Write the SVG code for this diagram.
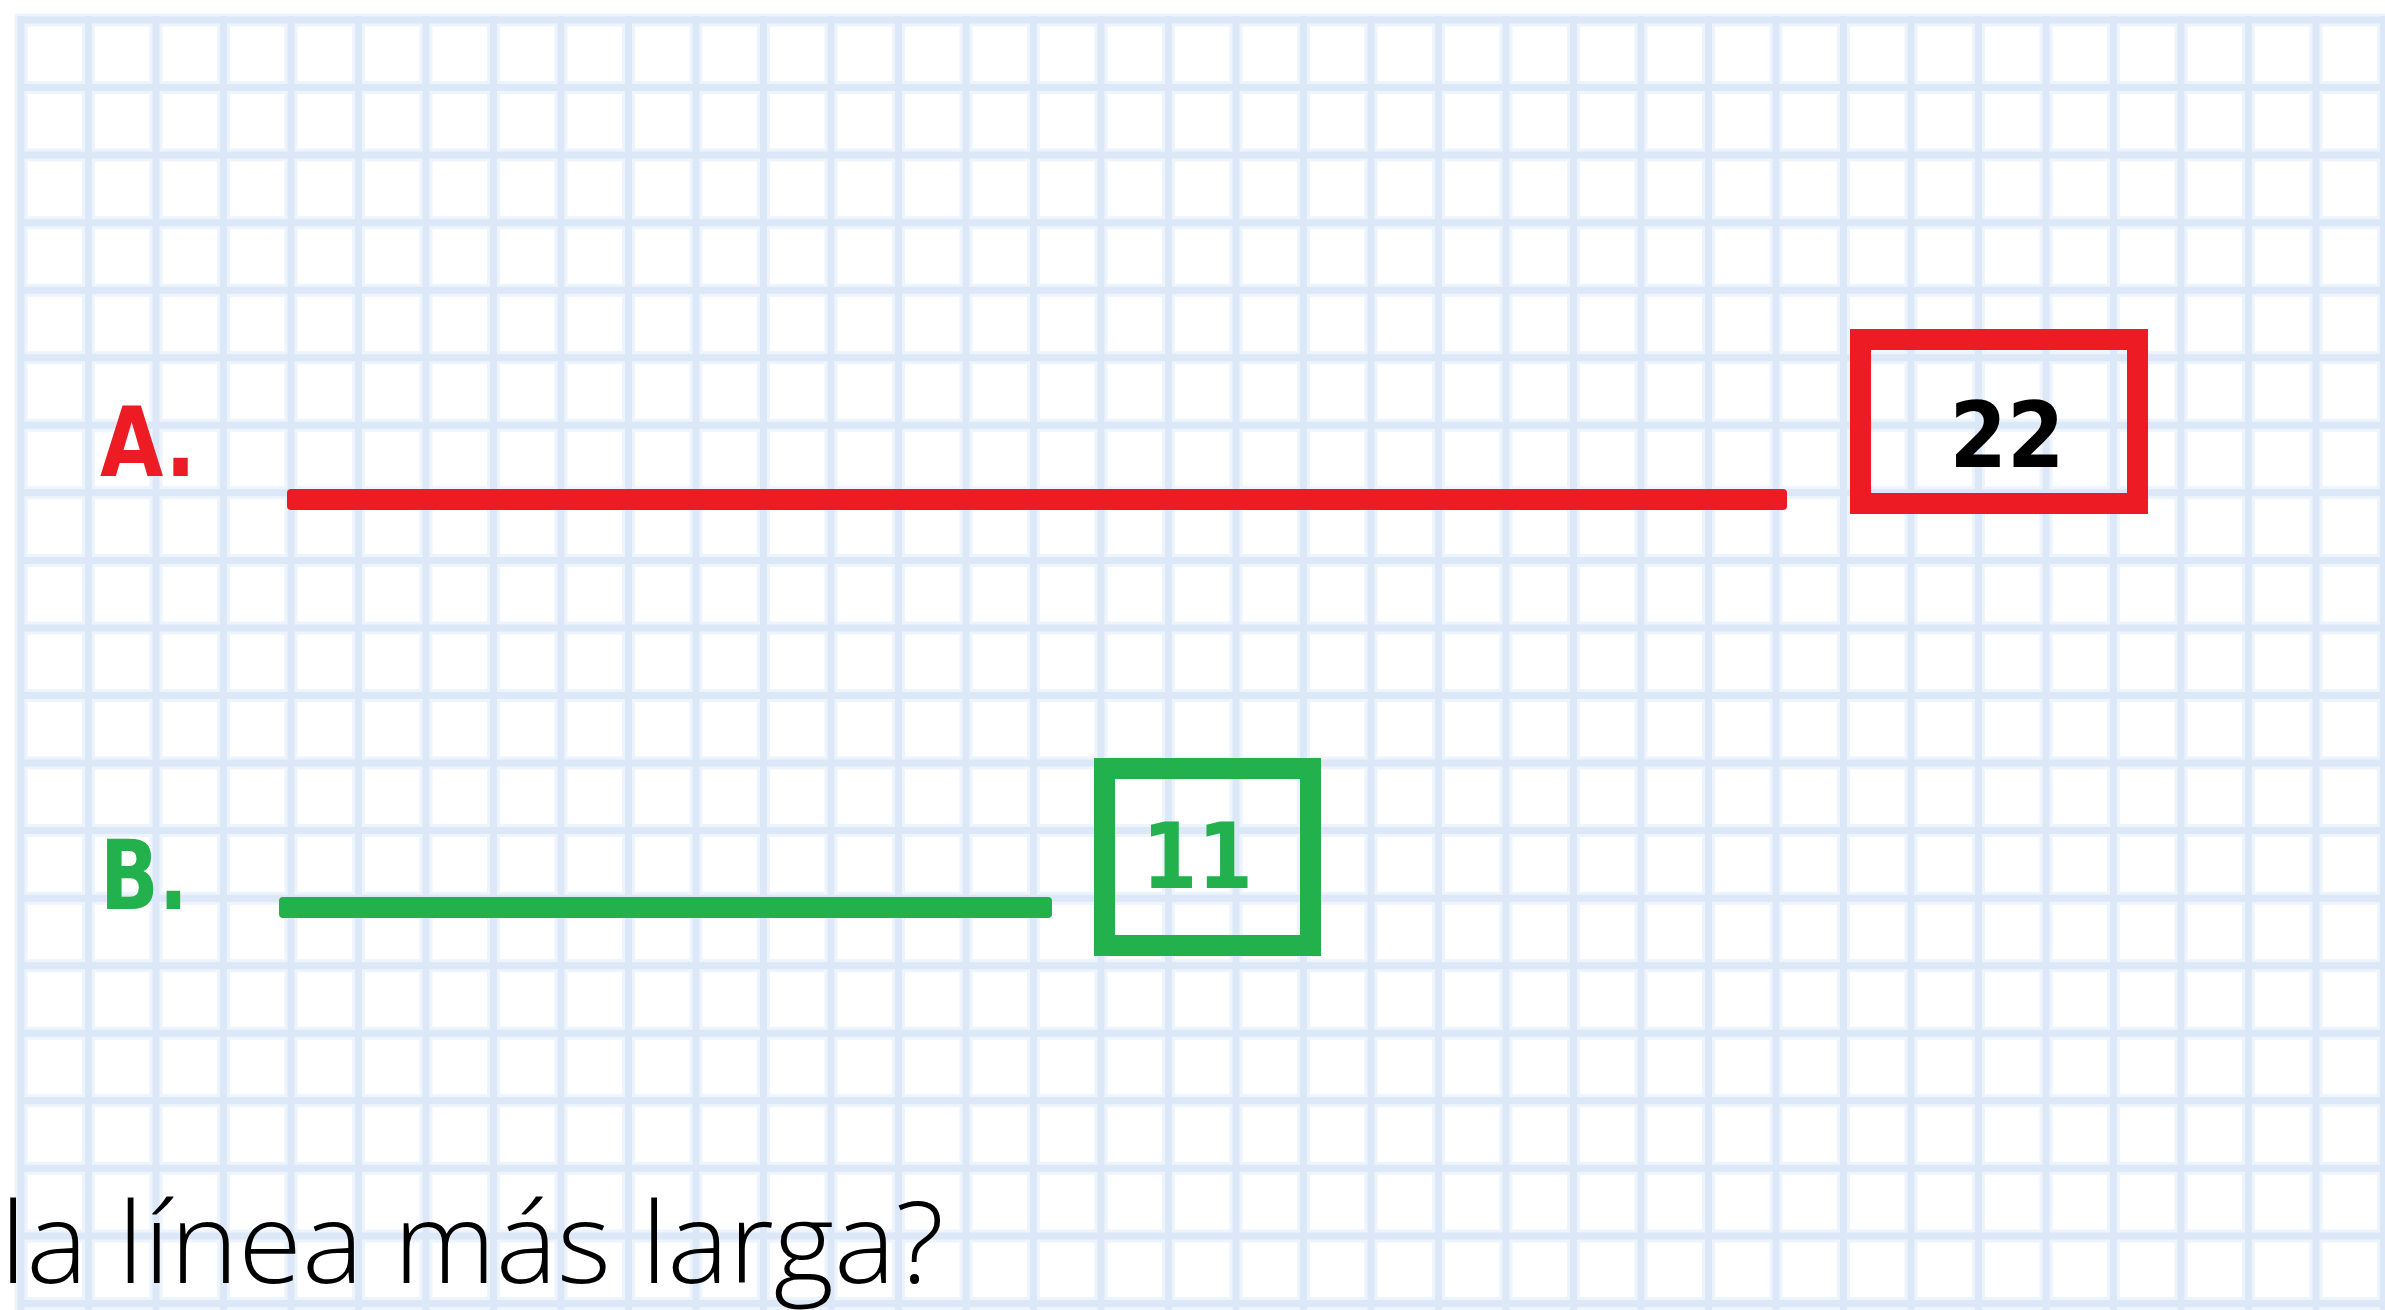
<svg xmlns="http://www.w3.org/2000/svg" width="2385" height="1310" viewBox="0 0 2385 1310">
  <style>
    .grid-soft { stroke: #eef4fc; stroke-width: 13; fill: none; }
    .grid { stroke: #dce8f8; stroke-width: 7; fill: none; }
    .lbl { font-family: "DejaVu Sans", "Liberation Sans", sans-serif; font-weight: bold; }
    .num { font-family: "DejaVu Sans", "Liberation Sans", sans-serif; font-weight: bold; font-size: 90px; }
    .q { font-family: "Open Sans", "Liberation Sans", sans-serif; font-weight: 300; font-size: 113px; fill: #000000; }
  </style>
  <rect x="0" y="0" width="2385" height="1310" fill="#ffffff"/>
  <g id="grid">
    <path class="grid-soft" d="M21 14V1310M88.5 14V1310M156 14V1310M223.5 14V1310M291 14V1310M358.5 14V1310M426 14V1310M493.5 14V1310M561 14V1310M628.5 14V1310M696 14V1310M763.5 14V1310M831 14V1310M898.5 14V1310M966 14V1310M1033.5 14V1310M1101 14V1310M1168.5 14V1310M1236 14V1310M1303.5 14V1310M1371 14V1310M1438.5 14V1310M1506 14V1310M1573.5 14V1310M1641 14V1310M1708.5 14V1310M1776 14V1310M1843.5 14V1310M1911 14V1310M1978.5 14V1310M2046 14V1310M2113.5 14V1310M2181 14V1310M2248.5 14V1310M2316 14V1310M2383.5 14V1310M17 20H2385M17 87.55H2385M17 155.1H2385M17 222.65H2385M17 290.2H2385M17 357.75H2385M17 425.3H2385M17 492.85H2385M17 560.4H2385M17 627.95H2385M17 695.5H2385M17 763.05H2385M17 830.6H2385M17 898.15H2385M17 965.7H2385M17 1033.25H2385M17 1100.8H2385M17 1168.35H2385M17 1235.9H2385M17 1303.45H2385"/>
    <path class="grid" d="M21 16V1310M88.5 16V1310M156 16V1310M223.5 16V1310M291 16V1310M358.5 16V1310M426 16V1310M493.5 16V1310M561 16V1310M628.5 16V1310M696 16V1310M763.5 16V1310M831 16V1310M898.5 16V1310M966 16V1310M1033.5 16V1310M1101 16V1310M1168.5 16V1310M1236 16V1310M1303.5 16V1310M1371 16V1310M1438.5 16V1310M1506 16V1310M1573.5 16V1310M1641 16V1310M1708.5 16V1310M1776 16V1310M1843.5 16V1310M1911 16V1310M1978.5 16V1310M2046 16V1310M2113.5 16V1310M2181 16V1310M2248.5 16V1310M2316 16V1310M2383.5 16V1310M18 20H2385M18 87.55H2385M18 155.1H2385M18 222.65H2385M18 290.2H2385M18 357.75H2385M18 425.3H2385M18 492.85H2385M18 560.4H2385M18 627.95H2385M18 695.5H2385M18 763.05H2385M18 830.6H2385M18 898.15H2385M18 965.7H2385M18 1033.25H2385M18 1100.8H2385M18 1168.35H2385M18 1235.9H2385M18 1303.45H2385"/>
  </g>
  <g id="connectors">
    <rect x="287" y="489" width="1500" height="21" rx="4" fill="#ed1c24"/>
    <rect x="279" y="897" width="773" height="21" rx="4" fill="#22b14c"/>
  </g>
  <g id="label-a">
    <text class="lbl" x="100" y="476" font-size="97" fill="#ed1c24" textLength="96" lengthAdjust="spacingAndGlyphs">A.</text>
  </g>
  <g id="label-b">
    <text class="lbl" x="100" y="909" font-size="97" fill="#22b14c" textLength="88" lengthAdjust="spacingAndGlyphs">B.</text>
  </g>
  <g id="box-22">
    <rect x="1860.5" y="339.5" width="277" height="164" fill="none" stroke="#ed1c24" stroke-width="21"/>
    <text class="num" x="1949.5" y="467" fill="#000000" textLength="115" lengthAdjust="spacingAndGlyphs">22</text>
  </g>
  <g id="box-11">
    <rect x="1104.5" y="768.5" width="206" height="177" fill="none" stroke="#22b14c" stroke-width="21"/>
    <text class="num" x="1142" y="888" fill="#22b14c" textLength="111" lengthAdjust="spacingAndGlyphs">11</text>
  </g>
  <g id="question">
    <text class="q" x="0" y="1283" textLength="944" lengthAdjust="spacingAndGlyphs">la línea más larga?</text>
  </g>
</svg>
